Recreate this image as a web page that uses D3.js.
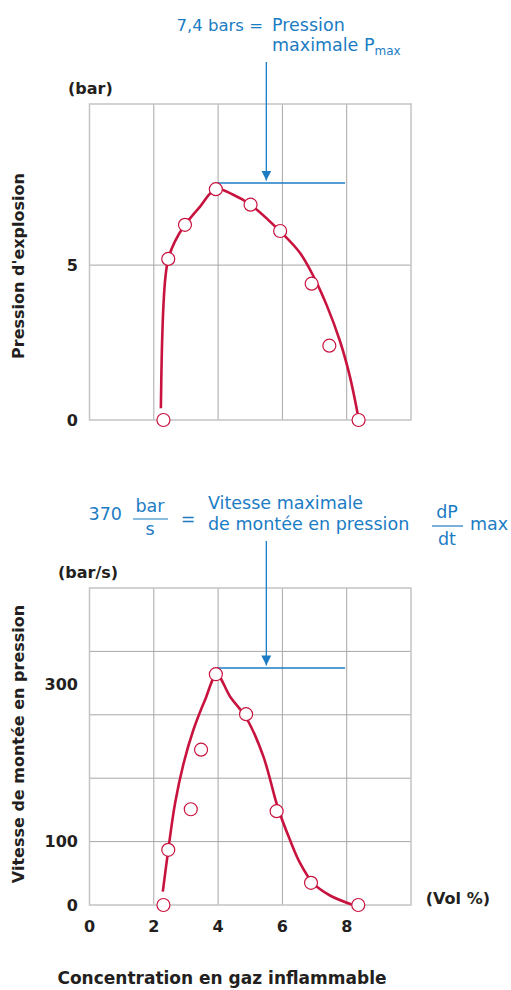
<!DOCTYPE html>
<html>
<head>
<meta charset="utf-8">
<script src="https://cdn.jsdelivr.net/npm/d3@7"></script>
<style>
  body { margin: 0; background: #fff; }
  text { font-family: "DejaVu Sans", sans-serif; }
  .dark { fill: #231f20; font-weight: bold; }
  .blue { fill: #1b7cc4; }
</style>
</head>
<body>
<svg id="chart" width="511" height="990"></svg>
<script>
// x axis (Vol %)
const xTicks = [0, 2, 4, 6, 8];
const xGrid = [2, 4, 6, 8];

// pression d'explosion (bar)
const pressurePoints = [
    [2.3, 0], [2.45, 5.2], [2.97, 6.3], [3.93, 7.45], [5.01, 6.95],
    [5.93, 6.1], [6.91, 4.4], [7.46, 2.4], [8.37, 0]
];
const pressureCurve = [
    [2.22, 0.38], [2.25, 2.2], [2.3, 3.7], [2.36, 4.6], [2.45, 5.2],
    [2.65, 5.75], [2.97, 6.3], [3.44, 6.89], [3.93, 7.46], [4.47, 7.27],
    [5.01, 6.95], [5.93, 6.09], [6.55, 5.39], [7.01, 4.55], [7.38, 3.7],
    [7.79, 2.55], [8.1, 1.4], [8.36, 0.1]
];
const pressureTicks = [0, 5];
const pressureGrid = [5];
const pMax = 7.65;

// vitesse de montée en pression (bar/s)
const ratePoints = [
    [2.3, 0], [2.45, 87], [3.15, 151], [3.47, 245], [3.93, 364],
    [4.87, 301], [5.82, 148], [6.89, 35], [8.36, 0]
];
const rateCurve = [
    [2.28, 21], [2.45, 87], [2.66, 160], [2.92, 222], [3.23, 276],
    [3.59, 323], [3.96, 363], [4.37, 329], [4.89, 294], [5.41, 234],
    [5.85, 155], [6.24, 102], [6.55, 66], [6.96, 34], [7.48, 15], [8.2, 0]
];
const rateTickPos = [0, 100, 348];
const rateTickLabels = ["0", "100", "300"];
const rateGrid = [100, 200, 300, 400];
const rateMax = 374;

const red = "#c8133f";
const blue = "#1b7cc4";
const svg = d3.select("#chart");

svg.append("defs").append("marker")
    .attr("id", "arrow")
    .attr("viewBox", "0 0 10 10")
    .attr("refX", 10).attr("refY", 5)
    .attr("markerWidth", 10).attr("markerHeight", 10)
    .attr("markerUnits", "userSpaceOnUse")
    .attr("orient", "auto")
    .append("path")
    .attr("d", "M0,0L10,5L0,10Z")
    .attr("fill", blue);

const drawPanel = (opt) => {
    const x = d3.scaleLinear().domain([0, 10]).range([89.5, 411]);
    const y = d3.scaleLinear().domain(opt.yDomain).range([opt.bottom, opt.top]);
    const g = svg.append("g");

    // grid
    g.selectAll(".vg").data(xGrid).join("line")
        .attr("x1", d => x(d)).attr("x2", d => x(d))
        .attr("y1", opt.top).attr("y2", opt.bottom)
        .attr("stroke", "#a7a7a7").attr("stroke-width", 1);
    g.selectAll(".hg").data(opt.grid).join("line")
        .attr("x1", x(0)).attr("x2", x(10))
        .attr("y1", d => y(d)).attr("y2", d => y(d))
        .attr("stroke", "#a7a7a7").attr("stroke-width", 1);
    g.append("rect")
        .attr("x", x(0)).attr("y", opt.top)
        .attr("width", x(10) - x(0)).attr("height", opt.bottom - opt.top)
        .attr("fill", "none").attr("stroke", "#c4c4c4").attr("stroke-width", 1.5);

    // y tick labels
    g.selectAll(".yt").data(opt.tickPos).join("text")
        .attr("class", "dark")
        .attr("x", 78).attr("y", d => y(d))
        .attr("dy", "0.36em")
        .attr("text-anchor", "end")
        .attr("font-size", 16)
        .text((d, i) => opt.tickLabels[i]);

    // unit
    g.append("text").attr("class", "dark")
        .attr("x", opt.unitX).attr("y", opt.top - 10)
        .attr("font-size", 16)
        .text(opt.unit);

    // rotated title
    g.append("text").attr("class", "dark")
        .attr("transform", `translate(24,${opt.titleY}) rotate(-90)`)
        .attr("text-anchor", "middle")
        .attr("font-size", 16)
        .text(opt.title);

    // max line + arrow
    g.append("line")
        .attr("x1", x(3.97)).attr("x2", x(7.95))
        .attr("y1", y(opt.max)).attr("y2", y(opt.max))
        .attr("stroke", blue).attr("stroke-width", 1.5);
    g.append("line")
        .attr("x1", x(5.5)).attr("x2", x(5.5))
        .attr("y1", opt.arrowTop).attr("y2", y(opt.max) - 2.5)
        .attr("stroke", blue).attr("stroke-width", 1.3)
        .attr("marker-end", "url(#arrow)");

    // fitted curve
    const line = d3.line()
        .x(d => x(d[0])).y(d => y(d[1]))
        .curve(d3.curveCatmullRom.alpha(0.5));
    g.append("path")
        .datum(opt.curve)
        .attr("d", line)
        .attr("fill", "none")
        .attr("stroke", red)
        .attr("stroke-width", 2.6);

    // measured points
    g.selectAll(".pt").data(opt.points).join("circle")
        .attr("cx", d => x(d[0])).attr("cy", d => y(d[1]))
        .attr("r", 6.5)
        .attr("fill", "#fff")
        .attr("stroke", red)
        .attr("stroke-width", 1.2);

    return x;
};

drawPanel({
    yDomain: [0, 10.2], top: 104, bottom: 420,
    grid: pressureGrid, tickPos: pressureTicks, tickLabels: pressureTicks.map(String),
    unit: "(bar)", unitX: 68, title: "Pression d'explosion", titleY: 266,
    max: pMax, arrowTop: 62,
    curve: pressureCurve, points: pressurePoints
});

const x = drawPanel({
    yDomain: [0, 500], top: 588, bottom: 905,
    grid: rateGrid, tickPos: rateTickPos, tickLabels: rateTickLabels,
    unit: "(bar/s)", unitX: 58, title: "Vitesse de montée en pression", titleY: 744,
    max: rateMax, arrowTop: 541,
    curve: rateCurve, points: ratePoints
});

// x tick labels
svg.selectAll(".xt").data(xTicks).join("text")
    .attr("class", "dark")
    .attr("x", d => x(d)).attr("y", 932)
    .attr("text-anchor", "middle")
    .attr("font-size", 16)
    .text(d => d);

svg.append("text").attr("class", "dark")
    .attr("x", 490).attr("y", 904)
    .attr("text-anchor", "end")
    .attr("font-size", 16)
    .text("(Vol %)");

svg.append("text").attr("class", "dark")
    .attr("x", 222).attr("y", 984)
    .attr("text-anchor", "middle")
    .attr("font-size", 17)
    .text("Concentration en gaz inflammable");

// top annotation
const ann = svg.append("g").attr("class", "blue").attr("font-size", 17.5);
ann.append("text").attr("x", 263).attr("y", 31).attr("text-anchor", "end")
    .attr("font-size", 16.5).text("7,4 bars =");
ann.append("text").attr("x", 272).attr("y", 31).text("Pression");
const pm = ann.append("text").attr("x", 272).attr("y", 51);
pm.append("tspan").text("maximale P");
pm.append("tspan").attr("font-size", 12).attr("dy", 4).text("max");

// bottom annotation
ann.append("text").attr("x", 122).attr("y", 520).attr("text-anchor", "end").text("370");
ann.append("text").attr("x", 150).attr("y", 512).attr("text-anchor", "middle").text("bar");
ann.append("line").attr("x1", 133).attr("x2", 168).attr("y1", 519).attr("y2", 519)
    .attr("stroke", blue).attr("stroke-width", 1.2);
ann.append("text").attr("x", 150).attr("y", 535).attr("text-anchor", "middle").text("s");
ann.append("text").attr("x", 188).attr("y", 525).attr("text-anchor", "middle").text("=");
ann.append("text").attr("x", 208).attr("y", 509).text("Vitesse maximale");
ann.append("text").attr("x", 208).attr("y", 530).text("de montée en pression");
ann.append("text").attr("x", 447).attr("y", 518).attr("text-anchor", "middle").text("dP");
ann.append("line").attr("x1", 432).attr("x2", 463).attr("y1", 526).attr("y2", 526)
    .attr("stroke", blue).attr("stroke-width", 1.2);
ann.append("text").attr("x", 447).attr("y", 545).attr("text-anchor", "middle").text("dt");
ann.append("text").attr("x", 470).attr("y", 530).text("max");
</script>
</body>
</html>
